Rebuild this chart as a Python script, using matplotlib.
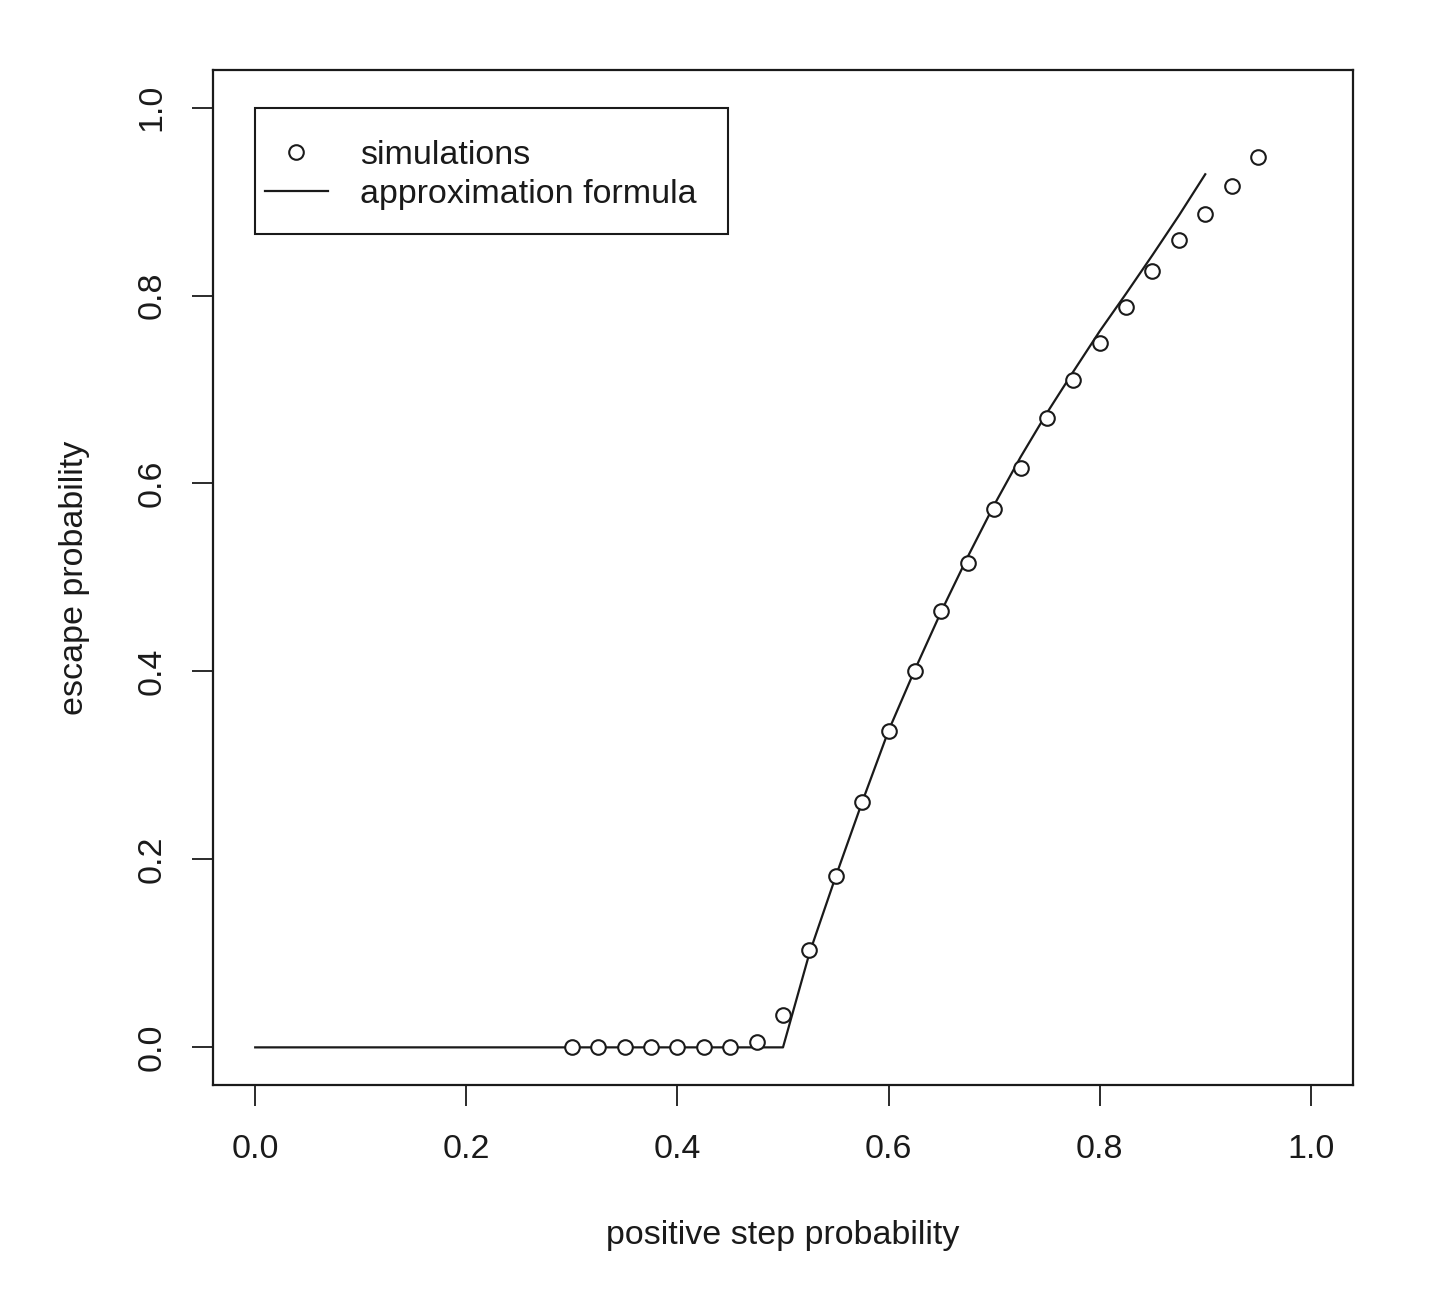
"""
Escape probability vs positive step probability: simulations against the
approximation formula (R base-graphics look).
"""
import matplotlib
matplotlib.use('Agg')
import matplotlib.pyplot as plt
from matplotlib.patches import Rectangle

plt.rcParams['font.family'] = ['Liberation Sans', 'DejaVu Sans']

# simulated escape probabilities
sim_p = [0.300, 0.325, 0.350, 0.375, 0.400, 0.425, 0.450, 0.475, 0.500,
         0.525, 0.550, 0.575, 0.600, 0.625, 0.650, 0.675, 0.700, 0.725,
         0.750, 0.775, 0.800, 0.825, 0.850, 0.875, 0.900, 0.925, 0.950]
sim_escape = [0.000, 0.000, 0.000, 0.000, 0.000, 0.000, 0.000, 0.006, 0.034,
              0.104, 0.182, 0.261, 0.337, 0.400, 0.464, 0.515, 0.573, 0.616,
              0.670, 0.710, 0.749, 0.788, 0.826, 0.859, 0.887, 0.916, 0.947]

# approximation formula
approx_p = [0.000, 0.500, 0.525, 0.550, 0.575, 0.600, 0.625, 0.650, 0.675,
            0.700, 0.725, 0.750, 0.775, 0.800, 0.825, 0.850, 0.875, 0.900]
approx_escape = [0.000, 0.000, 0.100, 0.182, 0.261, 0.337, 0.402, 0.464, 0.522,
                 0.577, 0.628, 0.675, 0.719, 0.762, 0.802, 0.843, 0.885, 0.929]

ticks = [0.0, 0.2, 0.4, 0.6, 0.8, 1.0]
tick_labels = ['0.0', '0.2', '0.4', '0.6', '0.8', '1.0']
legend_labels = ['simulations', 'approximation formula']

FS = 24.5
INK = '#1a1a1a'
MARKER = dict(marker='o', markersize=10.5, markerfacecolor='white',
              markeredgecolor=INK, markeredgewidth=1.5)

fig = plt.figure(figsize=(14.4, 12.93), dpi=100)
ax = fig.add_axes([0.1479, 0.1609, 0.7917, 0.785])

ax.plot(sim_p, sim_escape, linestyle='none', zorder=3, **MARKER)
ax.plot(approx_p, approx_escape, color=INK, linewidth=1.6, zorder=2)

ax.set_xlim(-0.04, 1.04)
ax.set_ylim(-0.04, 1.04)
ax.set_xticks(ticks)
ax.set_xticklabels(tick_labels)
ax.set_yticks(ticks)
ax.set_yticklabels(tick_labels, rotation=90, va='center')

for s in ax.spines.values():
    s.set_linewidth(1.6)
    s.set_color(INK)
ax.tick_params(axis='both', direction='out', length=15, width=1.3,
               colors=INK, labelsize=FS, labelcolor=INK)
ax.tick_params(axis='x', pad=20)
ax.tick_params(axis='y', pad=18)

ax.set_xlabel('positive step probability', fontsize=FS, color=INK, labelpad=40)
ax.set_ylabel('escape probability', fontsize=FS, color=INK, labelpad=33)

# R-style legend box, top-left corner sits at (0, 1) in data units
ax.add_patch(Rectangle((0.0, 0.865), 0.448, 0.135, fill=False,
                       edgecolor=INK, linewidth=1.5, zorder=4))
ax.plot([0.0388], [0.953], linestyle='none', zorder=5, **MARKER)
ax.plot([0.0095, 0.0691], [0.911, 0.911], color=INK, linewidth=1.6, zorder=5)
for yy, lab in zip([0.949, 0.907], legend_labels):
    ax.text(0.0994, yy, lab, fontsize=FS, color=INK, va='center', ha='left',
            zorder=5)

fig.savefig('out.png', dpi=100)
